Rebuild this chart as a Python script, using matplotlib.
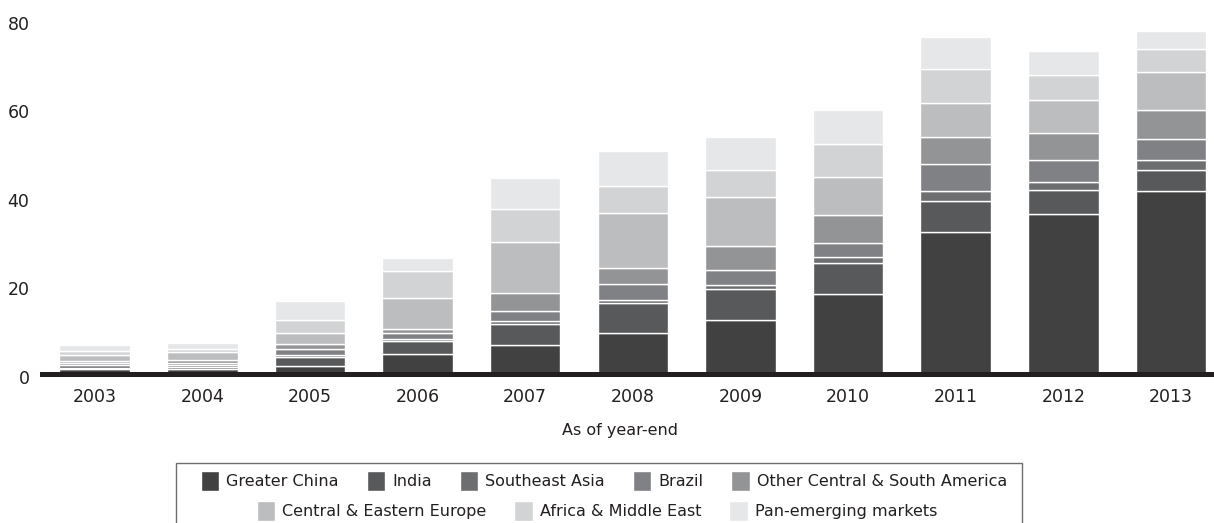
import numpy as np
import matplotlib
matplotlib.use("Agg")
import matplotlib.pyplot as plt
import matplotlib.transforms as mtransforms
from matplotlib.patches import Rectangle

years = ["2003", "2004", "2005", "2006", "2007", "2008", "2009", "2010", "2011", "2012", "2013"]

series_names = ["Greater China", "India", "Southeast Asia", "Brazil",
                "Other Central & South America", "Central & Eastern Europe",
                "Africa & Middle East", "Pan-emerging markets"]

greater_china = [1.1, 1.1, 1.8, 4.5, 6.6, 9.2, 12.2, 18.0, 32.1, 36.1, 41.2]
india = [0.3, 0.4, 2.1, 2.9, 4.7, 6.8, 7.0, 7.1, 7.0, 5.4, 4.9]
southeast_asia = [0.6, 0.45, 0.4, 0.45, 0.6, 0.75, 1.0, 1.35, 2.3, 1.8, 2.3]
brazil = [0.55, 0.45, 1.4, 1.5, 2.3, 3.5, 3.2, 3.1, 6.0, 5.1, 4.6]
other_csa = [0.35, 0.75, 1.0, 0.9, 4.1, 3.7, 5.4, 6.3, 6.2, 6.0, 6.7]
ce_europe = [1.45, 1.85, 2.6, 6.9, 11.6, 12.3, 11.1, 8.7, 7.5, 7.5, 8.5]
africa_me = [0.75, 0.75, 2.9, 6.0, 7.4, 6.2, 6.2, 7.4, 7.8, 5.5, 5.2]
pan_em = [1.35, 1.25, 4.3, 3.1, 6.9, 7.9, 7.4, 7.7, 7.1, 5.4, 4.0]

series = [greater_china, india, southeast_asia, brazil, other_csa,
          ce_europe, africa_me, pan_em]
colors = ["#414141", "#58595b", "#6d6e70", "#808184", "#939496",
          "#bcbdbf", "#d1d3d4", "#e6e7e8"]

plt.rcParams['font.family'] = ['DejaVu Sans']

W, H = 1214, 523
fig = plt.figure(figsize=(W / 100, H / 100), dpi=100)
ax = fig.add_axes([42 / W, 1 - 374 / H, 1 - 42 / W, (374 - 19.6) / H])

x = np.arange(len(years))
bottom = np.zeros(len(years))
handles = []
for vals, name, col in zip(series, series_names, colors):
    b = ax.bar(x, vals, width=0.655, bottom=bottom, color=col,
               edgecolor="white", linewidth=1.0, label=name)
    handles.append(b)
    bottom += np.array(vals)

ax.set_ylim(0, 80)
ax.set_xlim(-0.49, 10.4)
ax.set_yticks([0, 20, 40, 60, 80])
ax.set_xticks(x)
ax.set_xticklabels(years)
ax.tick_params(axis="both", length=0, labelsize=12.5, colors="#231f20")
ax.tick_params(axis="y", pad=9)
ax.tick_params(axis="x", pad=10)
for s in ["top", "right", "left"]:
    ax.spines[s].set_visible(False)
ax.spines["bottom"].set_linewidth(3.6)
ax.spines["bottom"].set_color("#231f20")

# y labels sit a little below their values in the original
shift = mtransforms.ScaledTranslation(0, -3 / 100, fig.dpi_scale_trans)
for lbl in ax.get_yticklabels():
    lbl.set_transform(lbl.get_transform() + shift)

fig.text(620 / W, 1 - 430 / H, "As of year-end", ha="center", va="center",
         fontsize=11.5, color="#231f20")

# legend frame, runs off the bottom of the picture
fig.patches.append(Rectangle((176 / W, -0.05), (1022 - 176) / W, 1 - 463 / H + 0.05,
                             transform=fig.transFigure, fill=False,
                             edgecolor="#6d6e70", linewidth=1.0))

leg_kw = dict(loc="center", frameon=False, fontsize=11.5, handlelength=1.15,
              handleheight=1.5, handletextpad=0.45, columnspacing=1.75,
              labelcolor="#231f20")
fig.legend(handles[:5], series_names[:5], ncol=5,
           bbox_to_anchor=(604 / W, 1 - 481 / H), **leg_kw)
fig.legend(handles[5:], series_names[5:], ncol=3,
           bbox_to_anchor=(597 / W, 1 - 511 / H), **leg_kw)

fig.savefig("out.png", dpi=100)
